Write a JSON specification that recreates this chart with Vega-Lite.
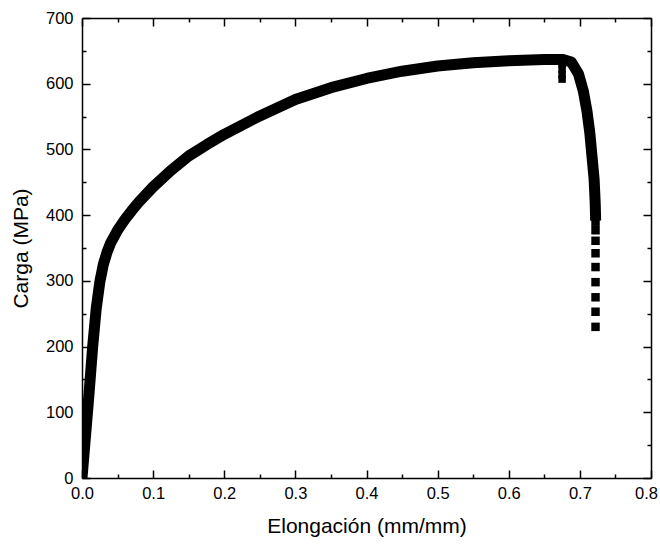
{
  "$schema": "https://vega.github.io/schema/vega-lite/v6.json",
  "width": 569,
  "height": 460,
  "autosize": "none",
  "padding": {"left": 82, "top": 18, "right": 9, "bottom": 66},
  "config": {
    "view": {"stroke": null},
    "font": "Liberation Sans",
    "axis": {
      "domainColor": "black", "tickColor": "black", "labelColor": "black", "titleColor": "black",
      "grid": false, "labelFont": "Liberation Sans", "titleFont": "Liberation Sans",
      "titleFontWeight": "normal", "labelFontSize": 16.5, "titleFontSize": 21,
      "domainWidth": 1.5, "tickWidth": 1.5
    }
  },
  "data": {
    "values": [
      {"e": 0, "c": 0, "s": "curve"},
      {"e": 0.005, "c": 65, "s": "curve"},
      {"e": 0.01, "c": 130, "s": "curve"},
      {"e": 0.015, "c": 200, "s": "curve"},
      {"e": 0.02, "c": 258, "s": "curve"},
      {"e": 0.025, "c": 298, "s": "curve"},
      {"e": 0.03, "c": 325, "s": "curve"},
      {"e": 0.035, "c": 343, "s": "curve"},
      {"e": 0.04, "c": 357, "s": "curve"},
      {"e": 0.05, "c": 377, "s": "curve"},
      {"e": 0.06, "c": 393, "s": "curve"},
      {"e": 0.07, "c": 407, "s": "curve"},
      {"e": 0.08, "c": 420, "s": "curve"},
      {"e": 0.1, "c": 443, "s": "curve"},
      {"e": 0.125, "c": 468, "s": "curve"},
      {"e": 0.15, "c": 490, "s": "curve"},
      {"e": 0.175, "c": 507, "s": "curve"},
      {"e": 0.2, "c": 523, "s": "curve"},
      {"e": 0.25, "c": 551, "s": "curve"},
      {"e": 0.3, "c": 576, "s": "curve"},
      {"e": 0.35, "c": 594, "s": "curve"},
      {"e": 0.4, "c": 608, "s": "curve"},
      {"e": 0.45, "c": 619, "s": "curve"},
      {"e": 0.5, "c": 627, "s": "curve"},
      {"e": 0.55, "c": 632, "s": "curve"},
      {"e": 0.6, "c": 635, "s": "curve"},
      {"e": 0.65, "c": 637, "s": "curve"},
      {"e": 0.675, "c": 637, "s": "curve"},
      {"e": 0.688, "c": 633, "s": "curve"},
      {"e": 0.698, "c": 615, "s": "curve"},
      {"e": 0.705, "c": 588, "s": "curve"},
      {"e": 0.71, "c": 558, "s": "curve"},
      {"e": 0.714, "c": 525, "s": "curve"},
      {"e": 0.717, "c": 490, "s": "curve"},
      {"e": 0.72, "c": 455, "s": "curve"},
      {"e": 0.7215, "c": 420, "s": "curve"},
      {"e": 0.722, "c": 400, "s": "curve"},
      {"e": 0.722, "c": 390, "s": "tail"},
      {"e": 0.722, "c": 377, "s": "tail"},
      {"e": 0.722, "c": 361, "s": "tail"},
      {"e": 0.722, "c": 342, "s": "tail"},
      {"e": 0.722, "c": 321, "s": "tail"},
      {"e": 0.722, "c": 298, "s": "tail"},
      {"e": 0.722, "c": 275, "s": "tail"},
      {"e": 0.722, "c": 253, "s": "tail"},
      {"e": 0.722, "c": 230, "s": "tail"},
      {"e": 0.675, "c": 630, "s": "drop"},
      {"e": 0.675, "c": 622, "s": "drop"},
      {"e": 0.675, "c": 614, "s": "drop"},
      {"e": 0.675, "c": 607, "s": "drop"}
    ]
  },
  "layer": [
    {
      "transform": [{"filter": "datum.s === 'curve'"}],
      "mark": {"type": "line", "color": "black", "strokeWidth": 11, "strokeCap": "square", "strokeJoin": "round", "clip": true},
      "encoding": {
        "x": {"field": "e", "type": "quantitative", "scale": {"domain": [0, 0.8], "nice": false},
          "axis": {"orient": "bottom", "title": "Elongación (mm/mm)", "values": [0, 0.1, 0.2, 0.3, 0.4, 0.5, 0.6, 0.7, 0.8], "format": ".1f", "tickSize": -8, "labelPadding": 15, "titleY": 37, "labelFlush": false, "labelOffset": {"condition": {"test": "datum.value >= 0.79", "value": -5}, "value": 0}}},
        "y": {"field": "c", "type": "quantitative", "scale": {"domain": [0, 700], "nice": false},
          "axis": {"orient": "left", "title": "Carga (MPa)", "values": [0, 100, 200, 300, 400, 500, 600, 700], "format": "d", "tickSize": -8, "labelPadding": 17, "titleX": -51, "labelFlush": false}}
      }
    },
    {
      "transform": [{"filter": "datum.s === 'tail'"}],
      "mark": {"type": "point", "shape": "square", "filled": true, "color": "black", "opacity": 1, "size": 72},
      "encoding": {
        "x": {"field": "e", "type": "quantitative", "scale": {"domain": [0, 0.8], "nice": false},
          "axis": {"orient": "top", "title": null, "labels": false, "values": [0, 0.1, 0.2, 0.3, 0.4, 0.5, 0.6, 0.7, 0.8], "tickSize": -8}},
        "y": {"field": "c", "type": "quantitative", "scale": {"domain": [0, 700], "nice": false},
          "axis": {"orient": "right", "title": null, "labels": false, "values": [0, 100, 200, 300, 400, 500, 600, 700], "tickSize": -8}}
      }
    },
    {
      "transform": [{"filter": "datum.s === 'drop'"}],
      "mark": {"type": "point", "shape": "square", "filled": true, "color": "black", "opacity": 1, "size": 56},
      "encoding": {
        "x": {"field": "e", "type": "quantitative", "scale": {"domain": [0, 0.8], "nice": false},
          "axis": {"orient": "bottom", "title": null, "labels": false, "domain": false, "values": [0.05, 0.15, 0.25, 0.35, 0.45, 0.55, 0.65, 0.75], "tickSize": -4}},
        "y": {"field": "c", "type": "quantitative", "scale": {"domain": [0, 700], "nice": false},
          "axis": {"orient": "left", "title": null, "labels": false, "domain": false, "values": [50, 150, 250, 350, 450, 550, 650], "tickSize": -4}}
      }
    },
    {
      "transform": [{"filter": "datum.s === 'drop'"}],
      "mark": {"type": "point", "shape": "square", "filled": true, "color": "black", "opacity": 0, "size": 10},
      "encoding": {
        "x": {"field": "e", "type": "quantitative", "scale": {"domain": [0, 0.8], "nice": false},
          "axis": {"orient": "top", "title": null, "labels": false, "domain": false, "values": [0.05, 0.15, 0.25, 0.35, 0.45, 0.55, 0.65, 0.75], "tickSize": -4}},
        "y": {"field": "c", "type": "quantitative", "scale": {"domain": [0, 700], "nice": false},
          "axis": {"orient": "right", "title": null, "labels": false, "domain": false, "values": [50, 150, 250, 350, 450, 550, 650], "tickSize": -4}}
      }
    }
  ],
  "resolve": {"axis": {"x": "independent", "y": "independent"}}
}
